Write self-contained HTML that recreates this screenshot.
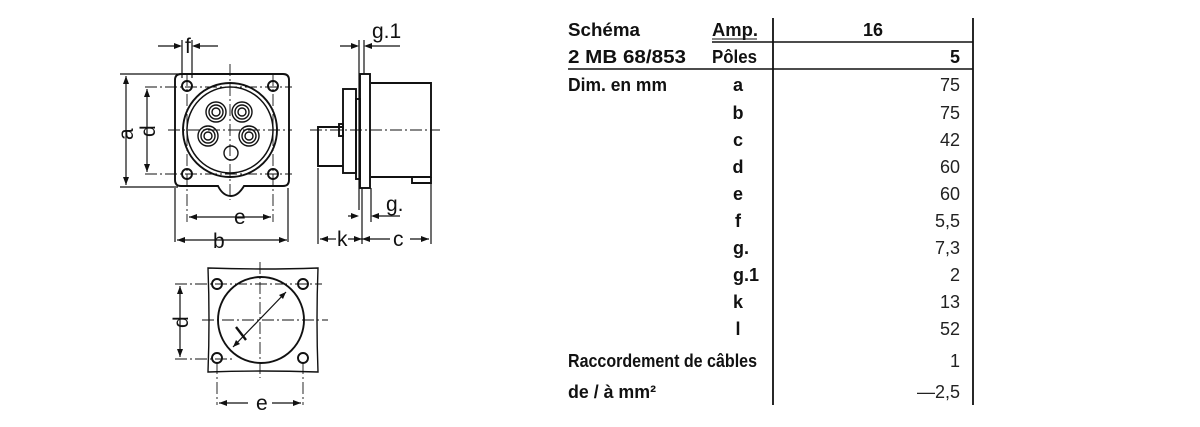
<!DOCTYPE html>
<html><head><meta charset="utf-8"><style>
body{margin:0;background:#fff;width:1200px;height:427px;overflow:hidden}
svg{display:block}
.b{font-family:"Liberation Sans",sans-serif;font-weight:bold;font-size:18px;fill:#111}
.n{font-family:"Liberation Sans",sans-serif;font-size:18px;fill:#222}
.d{font-family:"Liberation Sans",sans-serif;font-size:21px;fill:#111}
</style></head><body>
<svg width="1200" height="427" viewBox="0 0 1200 427">
<g stroke="#111" fill="none" stroke-width="1.9">
<!-- front view -->
<path d="M181,74 H283 Q289,74 289,80 V180 Q289,186 283,186 H244 Q238,196 231,196 Q223,196 218,186 H181 Q175,186 175,180 V80 Q175,74 181,74 Z"/>
<circle cx="230" cy="130" r="47"/><circle cx="230" cy="130" r="43" stroke-width="1.5"/>
<circle cx="187" cy="86" r="5"/><circle cx="273" cy="86" r="5"/><circle cx="187" cy="174" r="5"/><circle cx="273" cy="174" r="5"/>
<g stroke-width="1.4">
<circle cx="216" cy="112" r="10"/><circle cx="216" cy="112" r="7"/><circle cx="216" cy="112" r="4"/>
<circle cx="242" cy="112" r="10"/><circle cx="242" cy="112" r="7"/><circle cx="242" cy="112" r="4"/>
<circle cx="208" cy="136" r="10"/><circle cx="208" cy="136" r="7"/><circle cx="208" cy="136" r="4"/>
<circle cx="249" cy="136" r="10"/><circle cx="249" cy="136" r="7"/><circle cx="249" cy="136" r="4"/>
<circle cx="231" cy="153" r="7"/>
</g>
<g stroke-width="0.9" stroke-dasharray="12,3,2,3">
<line x1="230" y1="64" x2="230" y2="200"/><line x1="168" y1="130" x2="292" y2="130"/>
<line x1="145" y1="87" x2="292" y2="87"/><line x1="145" y1="174" x2="292" y2="174"/>
<line x1="187" y1="74" x2="187" y2="222"/><line x1="273" y1="74" x2="273" y2="222"/>
<line x1="310" y1="130" x2="440" y2="130"/>
</g>
<g stroke-width="1.2">
<line x1="120" y1="74" x2="178" y2="74"/><line x1="120" y1="187" x2="178" y2="187"/>
<line x1="126" y1="76" x2="126" y2="185"/><line x1="147" y1="89" x2="147" y2="172"/>
<line x1="175" y1="188" x2="175" y2="242"/><line x1="288" y1="188" x2="288" y2="242"/>
<line x1="177" y1="240" x2="287" y2="240"/><line x1="189" y1="217" x2="271" y2="217"/>
<line x1="182" y1="40" x2="182" y2="78"/><line x1="192" y1="40" x2="192" y2="78"/>
<line x1="158" y1="46" x2="180" y2="46"/><line x1="194" y1="46" x2="218" y2="46"/>
</g>
<!-- side view -->
<rect x="360" y="74" width="10" height="114"/>
<path d="M371,83 H431 V177 H371"/><path d="M412,177 V183 H431 V177"/>
<rect x="343" y="89" width="13" height="84"/><rect x="356" y="99" width="4" height="80"/>
<path d="M343,127 H318 V166 H343"/><rect x="339" y="124" width="4" height="12"/>
<g stroke-width="1.2">
<line x1="359" y1="40" x2="359" y2="210"/><line x1="364" y1="40" x2="364" y2="74"/>
<line x1="340" y1="46" x2="357" y2="46"/><line x1="366" y1="46" x2="400" y2="46"/>
<line x1="371" y1="188" x2="371" y2="222"/><line x1="348" y1="216" x2="357" y2="216"/><line x1="373" y1="216" x2="400" y2="216"/>
<line x1="318" y1="168" x2="318" y2="244"/><line x1="362" y1="188" x2="362" y2="244"/><line x1="431" y1="183" x2="431" y2="244"/>
<line x1="320" y1="239" x2="336" y2="239"/><line x1="348" y1="239" x2="390" y2="239"/><line x1="410" y1="239" x2="429" y2="239"/>
</g>
<!-- bottom view -->
<path d="M208,268 Q260,270 318,268 Q316,320 318,372 Q260,370 208,372 Q210,320 208,268 Z" stroke-width="1.4"/>
<circle cx="261" cy="320" r="43"/>
<circle cx="217" cy="284" r="5"/><circle cx="303" cy="284" r="5"/><circle cx="217" cy="358" r="5"/><circle cx="303" cy="358" r="5"/>
<g stroke-width="0.9" stroke-dasharray="12,3,2,3">
<line x1="260" y1="262" x2="260" y2="378"/><line x1="202" y1="320" x2="328" y2="320"/>
<line x1="175" y1="284" x2="322" y2="284"/><line x1="175" y1="359" x2="232" y2="359"/>
<line x1="217" y1="362" x2="217" y2="405"/><line x1="303" y1="362" x2="303" y2="405"/>
</g>
<g stroke-width="1.2">
<line x1="180" y1="286" x2="180" y2="357"/><line x1="219" y1="403" x2="248" y2="403"/><line x1="272" y1="403" x2="301" y2="403"/>
<line x1="233" y1="347" x2="286" y2="292"/>
</g>
<!-- table lines -->
<line x1="712" y1="42" x2="973" y2="42" stroke-width="1.6"/>
<line x1="568" y1="69" x2="973" y2="69" stroke-width="1.6"/>
<line x1="773" y1="18" x2="773" y2="405" stroke-width="1.8"/>
<line x1="973" y1="18" x2="973" y2="405" stroke-width="1.8"/>
</g>
<g fill="#111">
<path d="M126,76 l-3,8 h6z M126,185 l-3,-8 h6z M147,89 l-3,8 h6z M147,172 l-3,-8 h6z"/>
<path d="M177,240 l8,-3 v6z M287,240 l-8,-3 v6z M189,217 l8,-3 v6z M271,217 l-8,-3 v6z"/>
<path d="M182,46 l-8,-3 v6z M192,46 l8,-3 v6z M359,46 l-8,-3 v6z M364,46 l8,-3 v6z"/>
<path d="M359,216 l-8,-3 v6z M371,216 l8,-3 v6z"/>
<path d="M320,239 l8,-3 v6z M362,239 l-8,-3 v6z M362,239 l8,-3 v6z M429,239 l-8,-3 v6z"/>
<path d="M180,286 l-3,8 h6z M180,357 l-3,-8 h6z M219,403 l8,-3 v6z M301,403 l-8,-3 v6z"/>
<path d="M286,292 l-7,3 l4,4z M233,347 l3,-7 l4,4z"/>
</g>
<text class="d" x="185" y="53">f</text>
<text class="d" x="372" y="38">g.1</text>
<text class="d" x="386" y="211">g.</text>
<text class="d" x="234" y="224">e</text>
<text class="d" x="213" y="248">b</text>
<text class="d" x="337" y="246">k</text>
<text class="d" x="393" y="246">c</text>
<text class="d" x="256" y="410">e</text>
<text class="d" transform="translate(133,140) rotate(-90)">a</text>
<text class="d" transform="translate(155,137) rotate(-90)">d</text>
<text class="d" transform="translate(188,328) rotate(-90)">d</text>
<line x1="236" y1="327" x2="246" y2="340" stroke="#111" stroke-width="2.4"/>
<!-- table text -->
<text class="b" x="568" y="36" textLength="72" lengthAdjust="spacingAndGlyphs">Schéma</text>
<text class="b" x="712" y="36" textLength="46" lengthAdjust="spacingAndGlyphs">Amp.</text>
<line x1="712" y1="39" x2="757" y2="39" stroke="#111" stroke-width="1"/>
<text class="b" x="873" y="36" text-anchor="middle">16</text>
<text class="b" x="568" y="63" textLength="118" lengthAdjust="spacingAndGlyphs">2 MB 68/853</text>
<text class="b" x="712" y="63" textLength="45" lengthAdjust="spacingAndGlyphs">Pôles</text>
<text class="b" x="960" y="63" text-anchor="end">5</text>
<text class="b" x="568" y="91" textLength="99" lengthAdjust="spacingAndGlyphs">Dim. en mm</text>
<g class="b" text-anchor="middle">
<text x="738" y="91">a</text><text x="738" y="119">b</text><text x="738" y="146">c</text><text x="738" y="173">d</text>
<text x="738" y="200">e</text><text x="738" y="227">f</text><text x="741" y="254">g.</text><text x="746" y="281">g.1</text>
<text x="738" y="308">k</text><text x="738" y="335">l</text>
</g>
<g class="n" text-anchor="end">
<text x="960" y="91">75</text><text x="960" y="119">75</text><text x="960" y="146">42</text><text x="960" y="173">60</text>
<text x="960" y="200">60</text><text x="960" y="227">5,5</text><text x="960" y="254">7,3</text><text x="960" y="281">2</text>
<text x="960" y="308">13</text><text x="960" y="335">52</text><text x="960" y="367">1</text><text x="960" y="398">—2,5</text>
</g>
<text class="b" x="568" y="367" textLength="189" lengthAdjust="spacingAndGlyphs">Raccordement de câbles</text>
<text class="b" x="568" y="398" textLength="88" lengthAdjust="spacingAndGlyphs">de / à mm²</text>
</svg>
</body></html>
